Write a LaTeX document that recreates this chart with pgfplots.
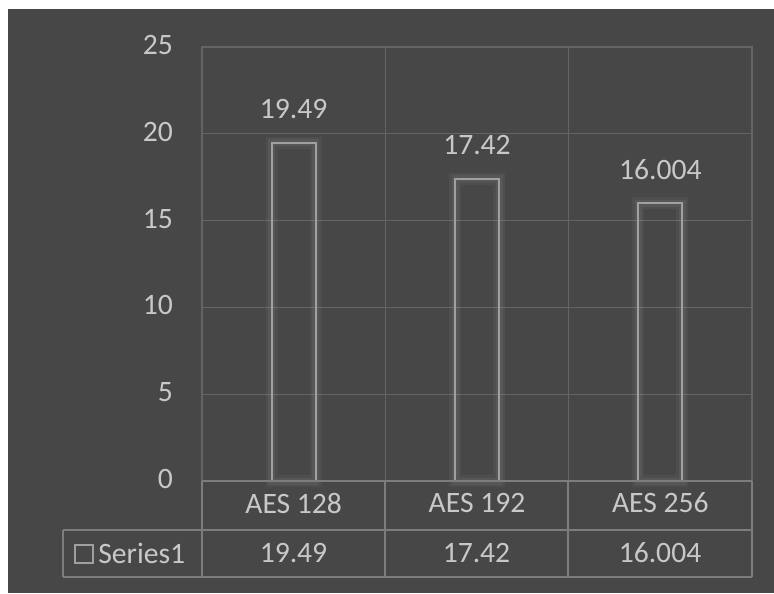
\documentclass[border=0pt]{standalone}
\usepackage{pgfplots}
\pgfplotsset{compat=1.18}
\usepackage{pgfplotstable}
\usepackage{fontspec}
\setmainfont{Carlito}
\definecolor{bg}{RGB}{71,71,71}
\definecolor{gridc}{RGB}{100,100,100}
\definecolor{tablec}{RGB}{125,125,125}
\definecolor{txt}{RGB}{200,200,200}
\definecolor{barc}{RGB}{160,160,160}
\newcommand{\cf}{\fontsize{14.8}{17}\selectfont}
\pgfplotstableread{
x y label
1 19.49 19.49
2 17.42 17.42
3 16.004 16.004
}\datatab
\begin{document}
\begin{tikzpicture}
\fill[white] (-101pt,-56pt) rectangle (286pt,240.5pt);
\fill[bg] (-97pt,-56pt) rectangle (286pt,236pt);
\begin{axis}[
  at={(0,0)}, anchor=south west,
  scale only axis, width=275pt, height=217pt,
  xmin=0.5, xmax=3.5, ymin=0, ymax=25,
  ytick={0,5,...,25},
  xtick={1,2,3}, xticklabels={AES 128,AES 192,AES 256},
  extra x ticks={1.5,2.5}, extra x tick labels={},
  extra x tick style={grid=major},
  ymajorgrids,
  major tick length=0pt,
  grid style={draw=gridc, line width=0.7pt},
  axis line style={draw=gridc, line width=0.7pt},
  clip=false,
  /pgf/number format/assume math mode=true,
  tick label style={font=\cf, text=txt},
  yticklabel style={anchor=east, xshift=-11pt, yshift=1pt},
  xticklabel style={anchor=center, yshift=-11pt},
]
\addplot[ybar, bar width=22pt, draw=white, draw opacity=0.04, line width=6pt, fill=none] table[x=x,y=y] {\datatab};
\addplot[ybar, bar width=22pt, draw=white, draw opacity=0.05, line width=3.5pt, fill=none] table[x=x,y=y] {\datatab};
\addplot[ybar, bar width=22pt, draw=barc, line width=1pt, fill=none,
  nodes near coords, point meta=explicit symbolic,
  every node near coord/.append style={font=\cf, text=txt, anchor=center, yshift=17pt}]
  table[x=x,y=y,meta=label] {\datatab};
\end{axis}
% data table below the plot
\begin{scope}[draw=tablec, line width=0.7pt]
\draw (0pt,0pt) -- (275pt,0pt);
\draw (-69.5pt,-24.5pt) -- (275pt,-24.5pt);
\draw (-69.5pt,-48pt) -- (275pt,-48pt);
\draw (-69.5pt,-24.5pt) -- (-69.5pt,-48pt);
\draw (0pt,0pt) -- (0pt,-48pt);
\draw (91.5pt,0pt) -- (91.5pt,-48pt);
\draw (183pt,0pt) -- (183pt,-48pt);
\draw (275pt,0pt) -- (275pt,-48pt);
\end{scope}
\draw[barc, line width=0.6pt] (-63.5pt,-41pt) rectangle (-54.5pt,-32pt);
\node[anchor=west, inner sep=0pt, font=\cf, text=txt] at (-52pt,-36pt) {Series1};
\node[font=\cf, text=txt] at (45.75pt,-36pt) {19.49};
\node[font=\cf, text=txt] at (137.25pt,-36pt) {17.42};
\node[font=\cf, text=txt] at (229pt,-36pt) {16.004};
\end{tikzpicture}
\end{document}
